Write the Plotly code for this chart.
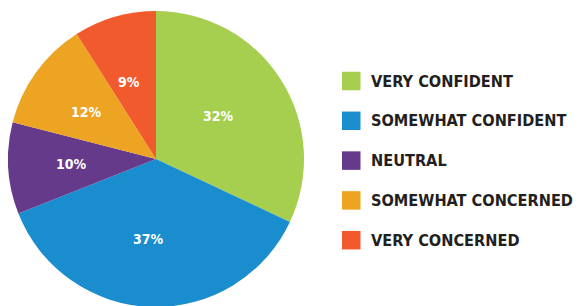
import math
import plotly.graph_objects as go

categories = ["VERY CONFIDENT", "SOMEWHAT CONFIDENT", "NEUTRAL", "SOMEWHAT CONCERNED", "VERY CONCERNED"]
values = [32, 37, 10, 12, 9]
colors = ["#A6CE4F", "#1A8DCF", "#653A8A", "#EDA422", "#F15A2C"]

W, H = 581, 306
FONT = "DejaVu Sans Condensed, DejaVu Sans, sans-serif"

# pie geometry (figure pixels)
R = 148
CX, CY = 148, 151  # from left, from top

fig = go.Figure(go.Pie(
    labels=categories,
    values=values,
    sort=False,
    direction="clockwise",
    rotation=0,
    marker=dict(colors=colors, line=dict(width=0)),
    textinfo="none",
    showlegend=False,
    hoverinfo="label+percent",
    domain=dict(x=[(CX - R) / W, (CX + R) / W],
                y=[(H - CY - R) / H, (H - CY + R) / H]),
))

annotations = []
# slice labels at ~0.54 radius along each slice bisector
total = sum(values)
cum = 0
for v in values:
    mid = (cum + v / 2) / total * 2 * math.pi
    cum += v
    d = 0.54 * R
    px = CX - 5 + d * math.sin(mid)
    py = CY - d * math.cos(mid)
    annotations.append(dict(xref="paper", yref="paper", x=px / W, y=1 - py / H,
                            xanchor="center", yanchor="middle", showarrow=False,
                            text=f"{v}%",
                            font=dict(family=FONT, size=14, color="white", weight="bold")))

shapes = []
row0, step, sq = 73, 39.8, 18.5
for i, (cat, col) in enumerate(zip(categories, colors)):
    cy = row0 + step * i
    shapes.append(dict(type="rect", xref="paper", yref="paper",
                       x0=334 / W, x1=(334 + sq) / W,
                       y0=1 - (cy + sq / 2) / H, y1=1 - (cy - sq / 2) / H,
                       fillcolor=col, line=dict(width=0)))
    annotations.append(dict(xref="paper", yref="paper", x=361 / W, y=1 - cy / H,
                            xanchor="left", yanchor="middle", showarrow=False,
                            text=cat, font=dict(family=FONT, size=16.2, color="#231F20", weight="bold")))

fig.update_layout(
    width=W, height=H,
    margin=dict(l=0, r=0, t=0, b=0),
    paper_bgcolor="white", plot_bgcolor="white",
    shapes=shapes, annotations=annotations,
)

fig.write_html("out.html")
